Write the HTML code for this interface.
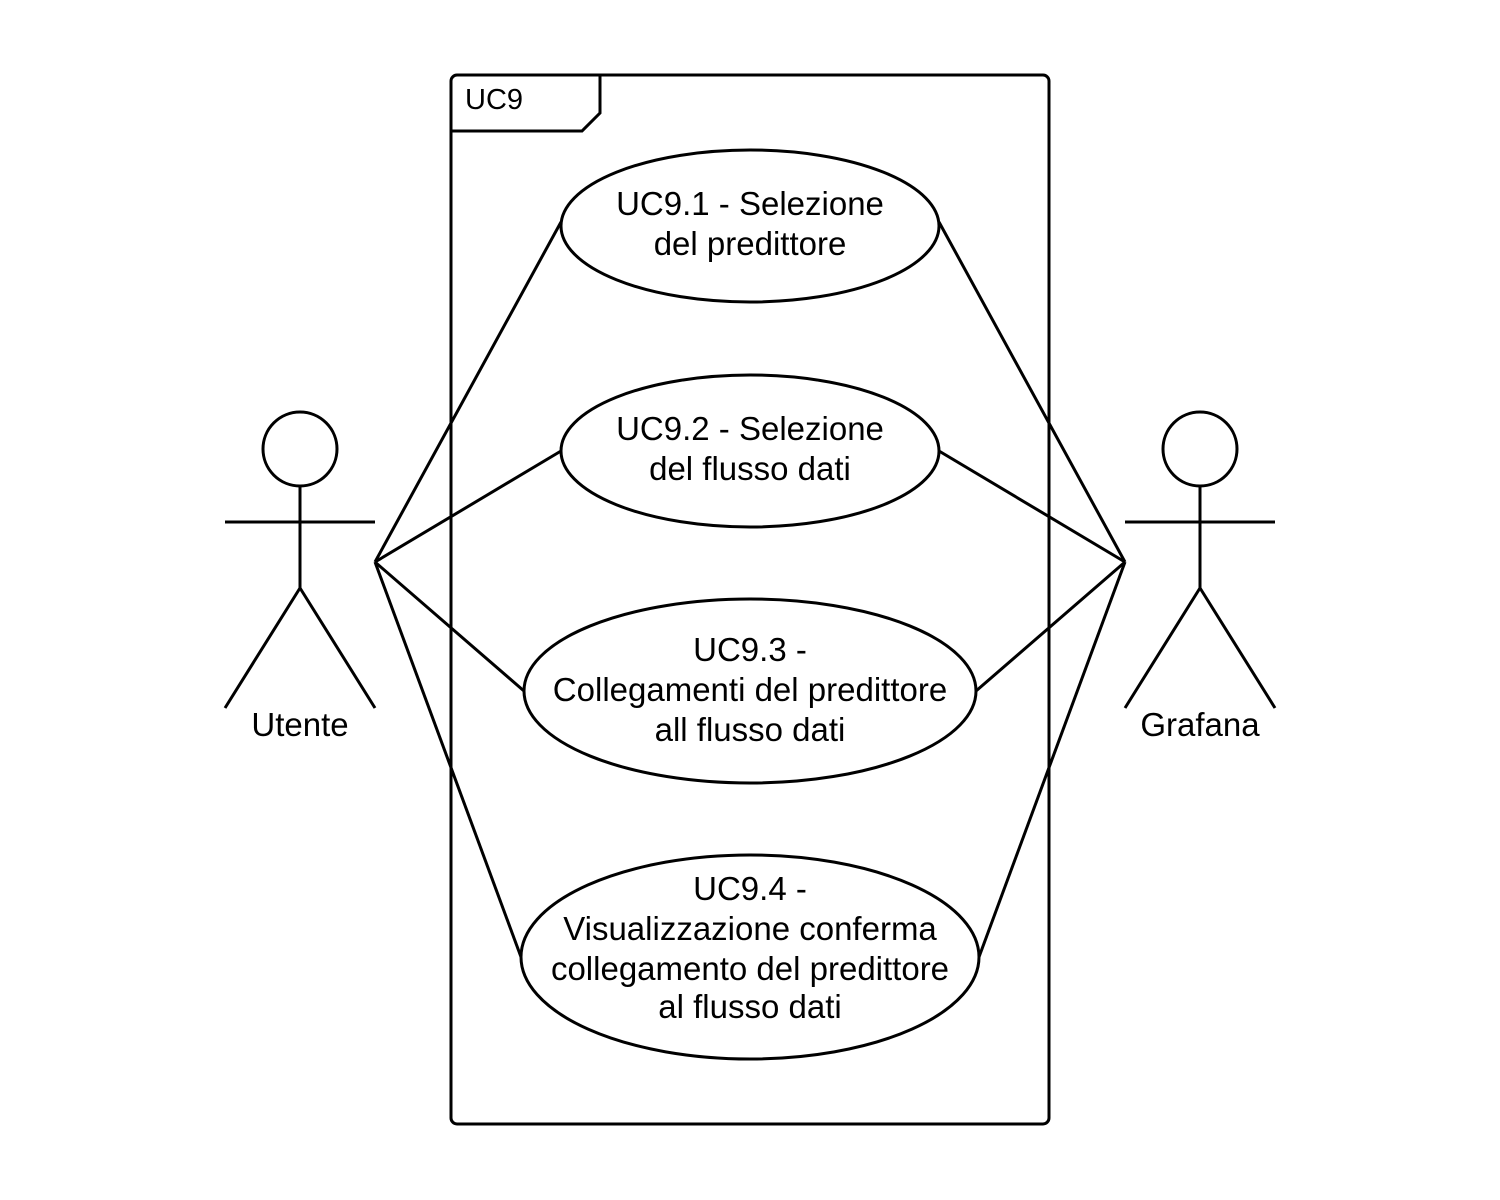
<!DOCTYPE html>
<html><head><style>body{margin:0;background:#fff}svg{display:block}</style></head><body>
<svg width="1500" height="1200" viewBox="0 0 1500 1200" xmlns="http://www.w3.org/2000/svg" font-family="Liberation Sans, sans-serif" fill="none" stroke="#000" stroke-width="3">
<rect x="451" y="75" width="598" height="1049" rx="6"/>
<path d="M451 131 H582 L600 113 V75"/>
<text x="465" y="109" font-size="29" fill="#000" stroke="none">UC9</text>
<g>
<line x1="375" y1="562" x2="561" y2="222"/>
<line x1="375" y1="562" x2="561" y2="451"/>
<line x1="375" y1="562" x2="524" y2="691"/>
<line x1="375" y1="562" x2="521" y2="957"/>
<line x1="1125" y1="562" x2="939" y2="222"/>
<line x1="1125" y1="562" x2="939" y2="451"/>
<line x1="1125" y1="562" x2="976" y2="691"/>
<line x1="1125" y1="562" x2="979" y2="957"/>
</g>
<g fill="#fff">
<ellipse cx="750" cy="226" rx="189" ry="76"/>
<ellipse cx="750" cy="451" rx="189" ry="76"/>
<ellipse cx="750" cy="691" rx="226" ry="92"/>
<ellipse cx="750" cy="957" rx="229" ry="102"/>
</g>
<g font-size="33" fill="#000" stroke="none" text-anchor="middle">
<text x="750" y="215">UC9.1 - Selezione</text>
<text x="750" y="255">del predittore</text>
<text x="750" y="440">UC9.2 - Selezione</text>
<text x="750" y="480">del flusso dati</text>
<text x="750" y="661">UC9.3 -</text>
<text x="750" y="701">Collegamenti del predittore</text>
<text x="750" y="741">all flusso dati</text>
<text x="750" y="900">UC9.4 -</text>
<text x="750" y="940">Visualizzazione conferma</text>
<text x="750" y="980">collegamento del predittore</text>
<text x="750" y="1018">al flusso dati</text>
<text x="300" y="736">Utente</text>
<text x="1200" y="736">Grafana</text>
</g>
<g>
<circle cx="300" cy="449" r="37"/>
<path d="M300 486 V588 M225 522 H375 M300 588 L225 708 M300 588 L375 708"/>
<circle cx="1200" cy="449" r="37"/>
<path d="M1200 486 V588 M1125 522 H1275 M1200 588 L1125 708 M1200 588 L1275 708"/>
</g>
</svg>
</body></html>
